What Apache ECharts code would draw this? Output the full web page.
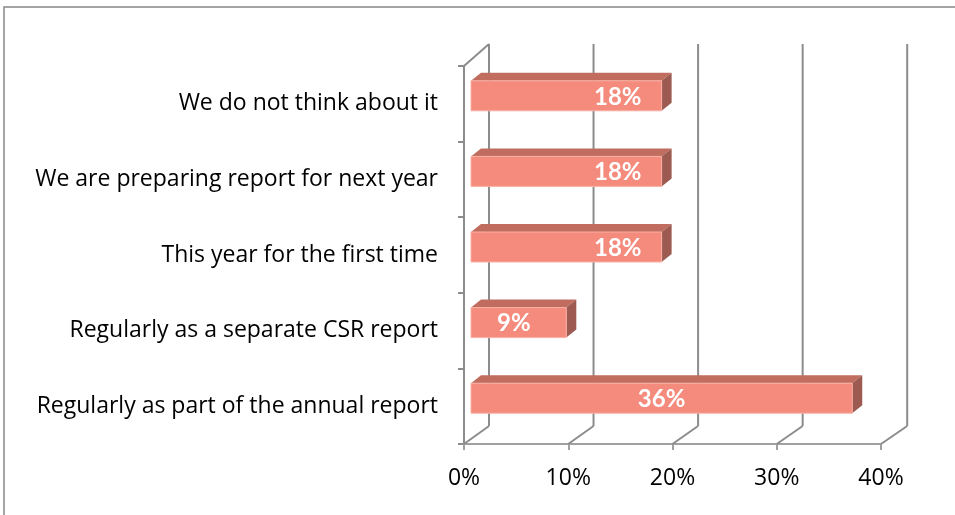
<!DOCTYPE html>
<html>
<head>
<meta charset="utf-8">
<script src="https://cdn.jsdelivr.net/npm/echarts@6/dist/echarts.min.js"></script>
<style>
  html, body { margin: 0; padding: 0; background: #fff; }
  #chart { width: 955px; height: 515px; }
</style>
</head>
<body>
<div id="chart"></div>
<script>
// categories listed bottom to top (category axis starts at the bottom)
var categories = [
    'Regularly as part of the annual report',
    'Regularly as a separate CSR report',
    'This year for the first time',
    'We are preparing report for next year',
    'We do not think about it'
];
// share of answers, percent (n = 11)
var shares = [36.36, 9.09, 18.18, 18.18, 18.18];
var shareLabels = ['36%', '9%', '18%', '18%', '18%'];
// where the label sits along the bar (fraction of its length)
var labelAt = [0.5, 0.45, 0.77, 0.77, 0.77];
var gridTicks = [0, 10, 20, 30, 40];

var chart = echarts.init(document.getElementById('chart'));

var wallColor = '#8c8c8c';
var depthX = 25;

function renderWall(params, api) {
    var v = api.value(0);
    var cs = params.coordSys;
    var x = api.coord([v, 0])[0];
    var top = cs.y, bottom = cs.y + cs.height;
    var bx = x + depthX + v * 0.03;
    var style = { stroke: wallColor, lineWidth: 2, fill: null };
    var children = [
        { type: 'line', shape: { x1: bx, y1: top - 22, x2: bx, y2: bottom - 18 }, style: style },
        { type: 'line', shape: { x1: x, y1: bottom, x2: bx, y2: bottom - 18 }, style: style }
    ];
    if (v === 0) {
        children.push({ type: 'line', shape: { x1: x, y1: top, x2: bx, y2: top - 22 }, style: style });
    }
    return { type: 'group', children: children };
}

function renderBar(params, api) {
    var v = api.value(0);
    var cat = api.value(1);
    var p0 = api.coord([0, cat]);
    var p1 = api.coord([v, cat]);
    var xl = p0[0] + 7;
    var xr = p1[0] + 7 + v * 0.06;
    var yt = p0[1] - 23;
    var h = 30;
    var dx = 10, dy = 8;
    var frac = labelAt[params.dataIndex];
    return {
        type: 'group',
        children: [
            {
                type: 'polygon',
                shape: { points: [[xl, yt], [xr, yt], [xr + dx, yt - dy], [xl + dx, yt - dy]] },
                style: { fill: '#c06d60' }
            },
            {
                type: 'polygon',
                shape: { points: [[xr, yt], [xr + dx, yt - dy], [xr + dx, yt + h - dy], [xr, yt + h]] },
                style: { fill: '#9c5a50' }
            },
            {
                type: 'rect',
                shape: { x: xl, y: yt, width: xr - xl, height: h },
                style: { fill: '#f48b7c', stroke: '#f8b0a4', lineWidth: 1 }
            },
            {
                type: 'text',
                x: xl + (xr - xl) * frac,
                y: yt + h / 2 + 1,
                style: {
                    text: shareLabels[params.dataIndex],
                    fill: '#ffffff',
                    font: 'bold 24px Lato',
                    align: 'center',
                    verticalAlign: 'middle'
                }
            }
        ]
    };
}

var option = {
    animation: false,
    backgroundColor: '#ffffff',
    graphic: [
        {
            type: 'rect',
            shape: { x: 4, y: 7, width: 1000, height: 600 },
            style: { fill: null, stroke: '#888888', lineWidth: 1.5 }
        }
    ],
    grid: {
        left: 464,
        right: 74,
        top: 66,
        bottom: 71
    },
    xAxis: {
        type: 'value',
        min: 0,
        max: 40,
        interval: 10,
        axisLine: { show: true, lineStyle: { color: '#a0a0a0', width: 2 } },
        axisTick: { show: true, length: 6, lineStyle: { color: '#a0a0a0', width: 2 } },
        splitLine: { show: false },
        axisLabel: {
            formatter: '{value}%',
            color: '#000',
            fontFamily: 'Open Sans',
            fontSize: 23,
            margin: 23
        }
    },
    yAxis: {
        type: 'category',
        data: categories,
        axisLine: { show: true, lineStyle: { color: wallColor, width: 2 } },
        axisTick: { show: true, length: 6, lineStyle: { color: wallColor, width: 2 } },
        axisLabel: {
            color: '#000',
            fontFamily: 'Open Sans',
            fontSize: 23,
            margin: 26
        }
    },
    series: [
        {
            type: 'custom',
            name: 'walls',
            z: 1,
            renderItem: renderWall,
            data: gridTicks.map(function (t) { return [t]; }),
            encode: { x: 0 },
            silent: true
        },
        {
            type: 'custom',
            name: 'Share',
            z: 3,
            renderItem: renderBar,
            data: shares.map(function (s, i) { return [s, i]; }),
            encode: { x: 0, y: 1 }
        }
    ]
};

chart.setOption(option);
</script>
</body>
</html>
